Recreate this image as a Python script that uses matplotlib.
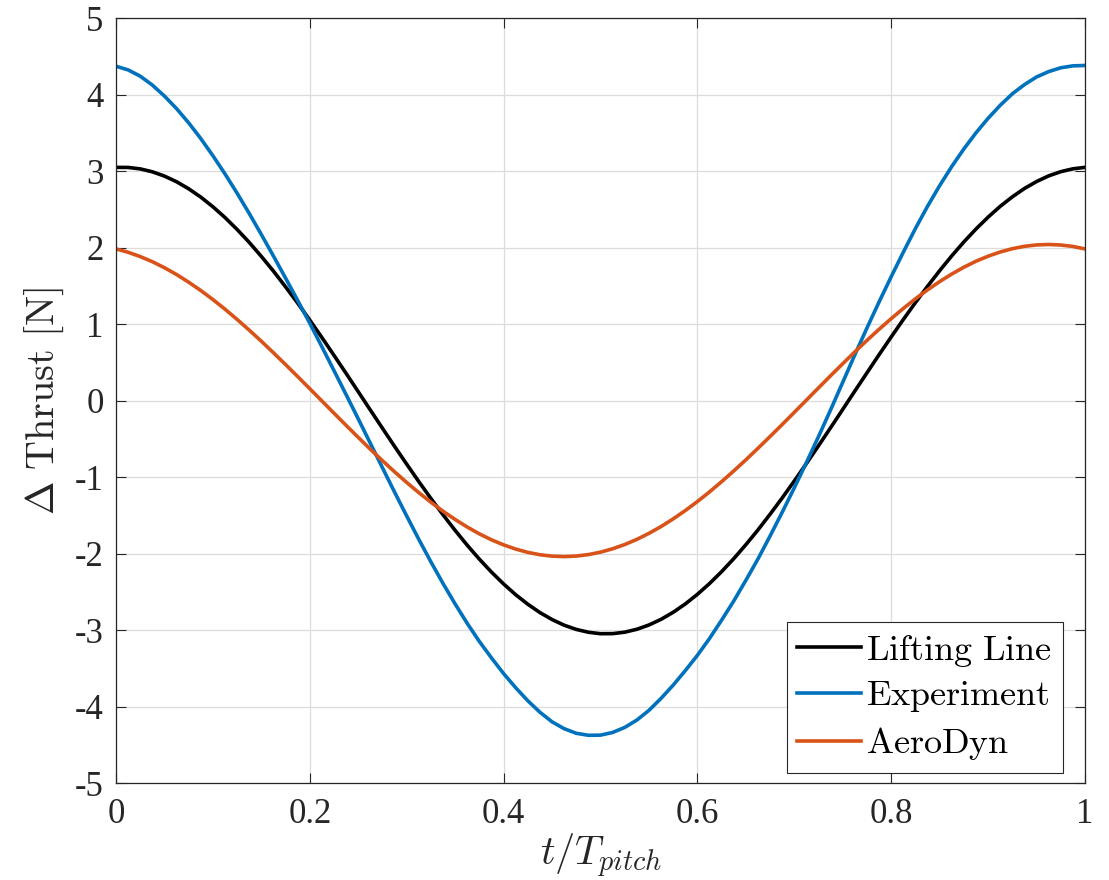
import numpy as np
import matplotlib
matplotlib.use("Agg")
import matplotlib.pyplot as plt

plt.rcParams['font.family'] = ['Liberation Serif', 'DejaVu Serif']
plt.rcParams['mathtext.fontset'] = 'cm'

# values, one every 0.0125 of the pitch period
t = np.round(np.arange(81) * 0.0125, 4)

lifting_line = [3.048, 3.047, 3.028, 2.990, 2.934, 2.860, 2.768, 2.659, 2.533, 2.392,
                2.236, 2.067, 1.884, 1.691, 1.486, 1.273, 1.051, 0.823, 0.590, 0.354,
                0.115, -0.125, -0.363, -0.600, -0.832, -1.060, -1.281, -1.494, -1.698, -1.892,
                -2.074, -2.243, -2.398, -2.539, -2.663, -2.772, -2.863, -2.937, -2.992, -3.029,
                -3.048, -3.047, -3.028, -2.990, -2.934, -2.860, -2.768, -2.659, -2.533, -2.392,
                -2.236, -2.067, -1.884, -1.691, -1.486, -1.273, -1.051, -0.823, -0.590, -0.354,
                -0.115, 0.125, 0.363, 0.600, 0.832, 1.060, 1.281, 1.494, 1.698, 1.892,
                2.074, 2.243, 2.398, 2.539, 2.663, 2.772, 2.863, 2.937, 2.992, 3.029, 3.048]

experiment = [4.37, 4.322, 4.24, 4.124, 3.98, 3.816, 3.63, 3.424, 3.20, 2.962,
              2.71, 2.445, 2.17, 1.888, 1.60, 1.308, 1.01, 0.702, 0.39, 0.076,
              -0.24, -0.560, -0.88, -1.198, -1.51, -1.815, -2.11, -2.392, -2.66, -2.914,
              -3.15, -3.365, -3.57, -3.755, -3.925, -4.075, -4.20, -4.29, -4.35, -4.376,
              -4.374, -4.339, -4.273, -4.177, -4.05, -3.893, -3.72, -3.53, -3.33, -3.11,
              -2.87, -2.62, -2.35, -2.07, -1.77, -1.46, -1.14, -0.81, -0.47, -0.12,
              0.24, 0.60, 0.95, 1.29, 1.62, 1.94, 2.25, 2.54, 2.81, 3.06,
              3.29, 3.50, 3.69, 3.86, 4.01, 4.13, 4.23, 4.30, 4.35, 4.375, 4.38]

aerodyn = [1.982, 1.938, 1.882, 1.815, 1.736, 1.647, 1.547, 1.438, 1.320, 1.194,
           1.060, 0.920, 0.775, 0.624, 0.470, 0.313, 0.154, -0.006, -0.166, -0.325,
           -0.482, -0.637, -0.787, -0.932, -1.071, -1.204, -1.330, -1.447, -1.555, -1.654,
           -1.743, -1.821, -1.887, -1.942, -1.985, -2.016, -2.034, -2.040, -2.033, -2.014,
           -1.982, -1.938, -1.882, -1.815, -1.736, -1.647, -1.547, -1.438, -1.320, -1.194,
           -1.060, -0.920, -0.775, -0.624, -0.470, -0.313, -0.154, 0.006, 0.166, 0.325,
           0.482, 0.637, 0.787, 0.932, 1.071, 1.204, 1.330, 1.447, 1.555, 1.654,
           1.743, 1.821, 1.887, 1.942, 1.985, 2.016, 2.034, 2.040, 2.033, 2.014, 1.982]

xticks = [0, 0.2, 0.4, 0.6, 0.8, 1]
xticklabels = ['0', '0.2', '0.4', '0.6', '0.8', '1']
yticks = [-5, -4, -3, -2, -1, 0, 1, 2, 3, 4, 5]
yticklabels = ['-5', '-4', '-3', '-2', '-1', '0', '1', '2', '3', '4', '5']

fig = plt.figure(figsize=(11.09, 8.80), dpi=100)
ax = fig.add_axes([0.1046, 0.1102, 0.8738, 0.8693])

ax.plot(t, lifting_line, color='black', lw=2.6, label=r'$\mathrm{Lifting\ Line}$')
ax.plot(t, experiment, color='#0072BD', lw=2.6, label=r'$\mathrm{Experiment}$')
ax.plot(t, aerodyn, color='#D95319', lw=2.6, label=r'$\mathrm{AeroDyn}$')

ax.set_xlim(0, 1)
ax.set_ylim(-5, 5)
ax.set_xticks(xticks)
ax.set_xticklabels(xticklabels)
ax.set_yticks(yticks)
ax.set_yticklabels(yticklabels)
ax.grid(True, color='#dcdcdc', lw=0.9)
ax.set_axisbelow(True)

ax.tick_params(direction='in', length=7, width=0.8, colors='#262626',
               labelsize=25, top=True, right=True)
ax.tick_params(axis='x', pad=11)
ax.tick_params(axis='y', pad=9)
for s in ax.spines.values():
    s.set_color('#262626')
    s.set_linewidth(0.9)

ax.set_xlabel(r'$t/T_{pitch}$', fontsize=29, color='#262626', labelpad=0)
ax.set_ylabel(r'$\Delta\ \mathrm{Thrust\ [N]}$', fontsize=29, color='#262626', labelpad=6)

leg = ax.legend(loc='lower right', bbox_to_anchor=(0.977, 0.013), fontsize=26,
                frameon=True, fancybox=False, edgecolor='#262626', framealpha=1,
                handlelength=1.75, handletextpad=0.15, borderpad=0.3,
                labelspacing=0.3, borderaxespad=0)
leg.get_frame().set_linewidth(0.8)

fig.savefig('out.png', dpi=100)
